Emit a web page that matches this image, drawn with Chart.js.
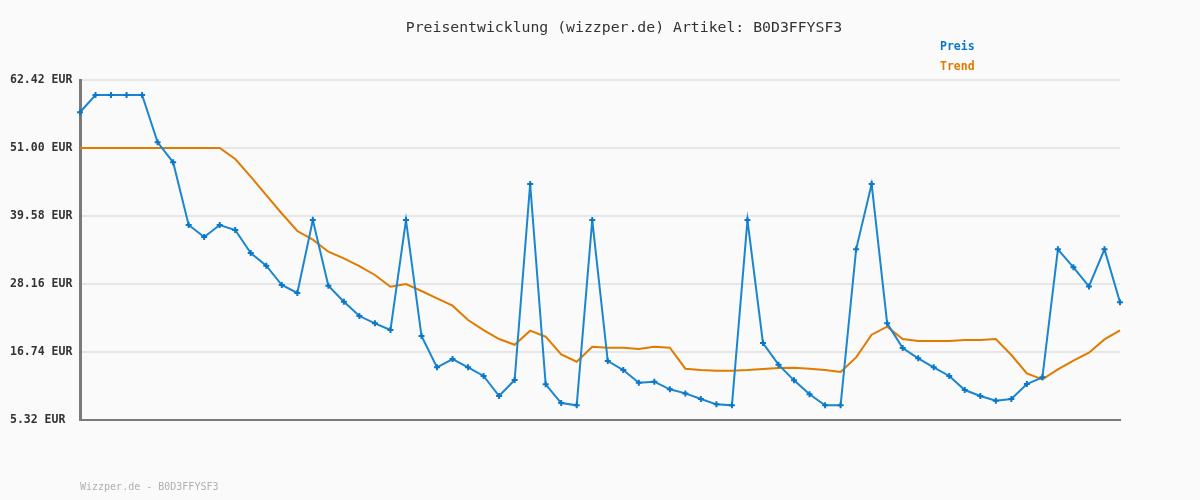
<!DOCTYPE html>
<html>
<head>
<meta charset="utf-8">
<script src="https://cdn.jsdelivr.net/npm/chart.js@4.4.1/dist/chart.umd.min.js"></script>
<style>
  html, body { margin: 0; padding: 0; background: #fafafa; }
  #wrap { width: 1200px; height: 500px; position: relative; }
</style>
</head>
<body>
<div id="wrap"><canvas id="priceChart"></canvas></div>
<script>
const title = 'Preisentwicklung (wizzper.de) Artikel: B0D3FFYSF3';
const footer = 'Wizzper.de - B0D3FFYSF3';

// one label per observation, no x tick labels shown in the picture
const labels = Array.from({ length: 68 }, (_, i) => String(i + 1));

const preis = [
  57.0, 59.9, 59.9, 59.9, 59.9, 51.95, 48.6, 38.07, 36.05, 38.07,
  37.23, 33.36, 31.23, 27.99, 26.65, 38.9, 27.88, 25.19, 22.78, 21.55,
  20.43, 38.9, 19.42, 14.16, 15.56, 14.16, 12.71, 9.35, 12.03, 44.95,
  11.31, 8.17, 7.78, 38.9, 15.23, 13.71, 11.58, 11.75, 10.47, 9.79,
  8.84, 7.95, 7.78, 38.9, 18.25, 14.61, 11.98, 9.63, 7.78, 7.78,
  33.98, 44.95, 21.55, 17.41, 15.67, 14.16, 12.71, 10.35, 9.35, 8.56,
  8.84, 11.36, 12.48, 33.98, 30.96, 27.76, 33.98, 25.08
];

const trend = [
  51.0, 51.0, 51.0, 51.0, 51.0, 51.0, 51.0, 51.0, 51.0, 51.0,
  49.15, 46.18, 43.1, 40.0, 37.06, 35.6, 33.59, 32.47, 31.18, 29.67,
  27.71, 28.16, 26.98, 25.75, 24.52, 22.11, 20.43, 18.92, 17.96, 20.32,
  19.31, 16.35, 15.11, 17.63, 17.46, 17.46, 17.24, 17.63, 17.46, 13.94,
  13.71, 13.6, 13.6, 13.71, 13.88, 14.05, 14.1, 13.94, 13.71, 13.38,
  15.84, 19.65, 20.99, 18.92, 18.58, 18.58, 18.58, 18.75, 18.75, 18.92,
  16.23, 13.15, 12.15, 13.83, 15.28, 16.62, 18.86, 20.38
];

const yTicks = [5.32, 16.74, 28.16, 39.58, 51.00, 62.42];

const blue = '#1a85d0';
const orange = '#e07b00';
const mono = '"DejaVu Sans Mono", "Liberation Mono", monospace';

// title, legend and footer sit at fixed spots in the original image
const decorations = {
  id: 'decorations',
  afterDraw(chart) {
    const ctx = chart.ctx;
    ctx.save();
    ctx.textBaseline = 'middle';
    ctx.fillStyle = '#333';
    ctx.font = '14.8px ' + mono;
    ctx.textAlign = 'center';
    ctx.fillText(title, 624, 28);

    ctx.textAlign = 'left';
    ctx.font = 'bold 11.5px ' + mono;
    ctx.fillStyle = '#0a78c8';
    ctx.fillText('Preis', 940, 47);
    ctx.fillStyle = orange;
    ctx.fillText('Trend', 940, 67);

    ctx.font = '10px ' + mono;
    ctx.fillStyle = '#b0b0b0';
    ctx.fillText(footer, 80, 487);
    ctx.restore();
  }
};

new Chart(document.getElementById('priceChart'), {
  type: 'line',
  data: {
    labels: labels,
    datasets: [
      {
        label: 'Preis',
        data: preis,
        borderColor: blue,
        backgroundColor: '#0a78c8',
        borderWidth: 2,
        pointStyle: 'cross',
        pointRadius: 3,
        pointBorderWidth: 2,
        pointBorderColor: '#0a78c8',
        tension: 0
      },
      {
        label: 'Trend',
        data: trend,
        borderColor: orange,
        borderWidth: 2,
        pointRadius: 0,
        tension: 0
      }
    ]
  },
  options: {
    responsive: true,
    maintainAspectRatio: false,
    animation: false,
    layout: { padding: { left: 10, right: 80, top: 80, bottom: 80 } },
    plugins: {
      legend: { display: false },
      title: { display: false },
      tooltip: { enabled: false }
    },
    scales: {
      x: {
        offset: false,
        grid: { display: false, drawTicks: false },
        border: { display: true, color: '#7a7a7a', width: 2 },
        ticks: { display: false }
      },
      y: {
        min: 5.32,
        max: 62.42,
        afterBuildTicks: scale => { scale.ticks = yTicks.map(v => ({ value: v })); },
        afterFit: scale => { scale.width = 70; },
        grid: { color: '#e6e6e6', lineWidth: 2, drawTicks: false },
        border: { display: true, color: '#7a7a7a', width: 3 },
        ticks: {
          crossAlign: 'far',
          padding: 0,
          color: '#333',
          font: { family: mono, size: 11.5, weight: 'bold' },
          callback: v => v.toFixed(2) + ' EUR'
        }
      }
    }
  },
  plugins: [decorations]
});
</script>
</body>
</html>
